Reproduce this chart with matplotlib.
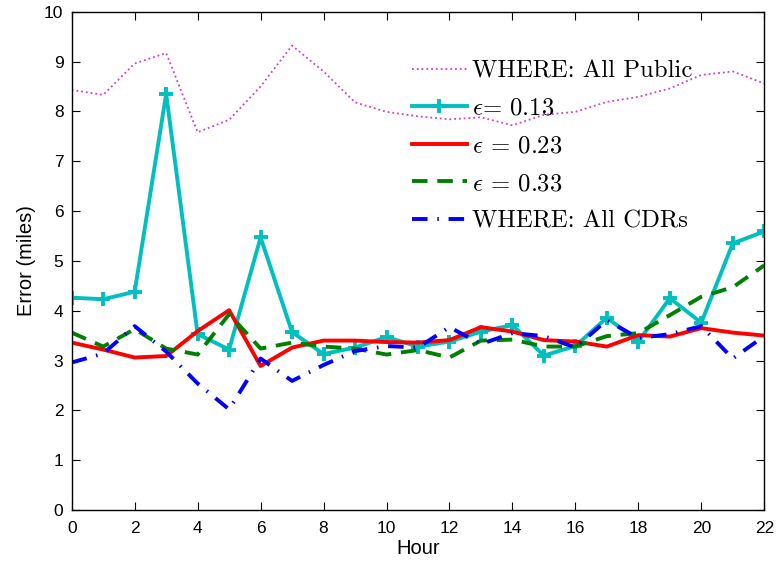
import numpy as np
import matplotlib
matplotlib.use("Agg")
import matplotlib.pyplot as plt

plt.rcParams['font.family'] = ['Liberation Sans', 'DejaVu Sans']
plt.rcParams['mathtext.fontset'] = 'cm'

hours = list(range(23))

# WHERE: All Public (magenta dotted)
all_public = [8.43, 8.33, 8.96, 9.17, 7.58, 7.83, 8.50, 9.32, 8.80, 8.18, 7.99, 7.90,
              7.84, 7.88, 7.72, 7.93, 7.99, 8.19, 8.29, 8.46, 8.73, 8.80, 8.56]
# epsilon = 0.13 (cyan, + markers)
eps_013 = [4.26, 4.23, 4.38, 8.35, 3.53, 3.22, 5.47, 3.57, 3.13, 3.26, 3.47, 3.28,
           3.38, 3.58, 3.71, 3.10, 3.29, 3.86, 3.38, 4.25, 3.76, 5.35, 5.59]
# epsilon = 0.23 (red)
eps_023 = [3.36, 3.22, 3.06, 3.09, 3.59, 4.01, 2.89, 3.26, 3.40, 3.40, 3.37, 3.36,
           3.41, 3.67, 3.58, 3.41, 3.38, 3.28, 3.51, 3.48, 3.65, 3.56, 3.50]
# epsilon = 0.33 (green dashed)
eps_033 = [3.56, 3.28, 3.63, 3.24, 3.12, 3.93, 3.24, 3.36, 3.28, 3.24, 3.12, 3.21,
           3.06, 3.40, 3.42, 3.28, 3.28, 3.49, 3.55, 3.91, 4.28, 4.47, 4.91]
# WHERE: All CDRs (blue dash-dot)
all_cdrs = [2.96, 3.14, 3.69, 3.18, 2.54, 2.02, 3.04, 2.59, 2.91, 3.19, 3.29, 3.26,
            3.67, 3.33, 3.55, 3.49, 3.26, 3.81, 3.45, 3.53, 3.69, 3.04, 3.49]

labels = ["WHERE: All Public",
          r"$\epsilon$= 0.13",
          r"$\epsilon$ = 0.23",
          r"$\epsilon$ = 0.33",
          "WHERE: All CDRs"]

fig = plt.figure(figsize=(7.77, 5.64), dpi=100)
ax = fig.add_axes([0.0923, 0.0957, 0.8913, 0.8836])

ax.plot(hours, all_public, color='#d03cd0', linestyle=':', linewidth=1.3, label=labels[0])
ax.plot(hours, eps_013, color='#00bfbf', linestyle='-', linewidth=2.8, marker='+',
        markersize=10, markeredgewidth=2.8, label=labels[1])
ax.plot(hours, eps_023, color='red', linestyle='-', linewidth=2.8, label=labels[2])
ax.plot(hours, eps_033, color='green', linestyle=(0, (4, 2.5)), linewidth=2.8, label=labels[3])
ax.plot(hours, all_cdrs, color='blue', linestyle=(0, (4, 2.5, 0.4, 2.5)), linewidth=2.8,
        label=labels[4])

ax.set_xlim(0, 22)
ax.set_ylim(0, 10)
ax.set_xticks(range(0, 23, 2))
ax.set_yticks(range(0, 11))
ax.tick_params(direction='in', length=6, top=True, right=True, labelsize=12.5)
ax.tick_params(axis='x', pad=8)
ax.tick_params(axis='y', pad=6)
for s in ax.spines.values():
    s.set_linewidth(1.0)

ax.set_xlabel("Hour", fontsize=14.5, labelpad=2)
ax.set_ylabel("Error (miles)", fontsize=14.5, labelpad=6)

leg = ax.legend(loc='upper left', bbox_to_anchor=(0.477, 0.923), frameon=False,
                prop={'family': 'cmr10', 'size': 17.8},
                handlelength=2.22, handletextpad=0.2, labelspacing=0.62,
                borderaxespad=0)

fig.savefig("out.png", dpi=100)
